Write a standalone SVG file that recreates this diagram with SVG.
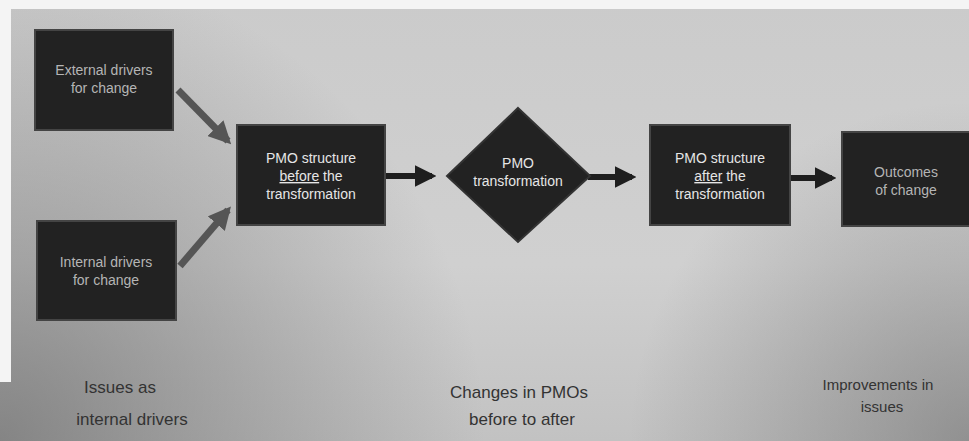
<svg xmlns="http://www.w3.org/2000/svg" width="969" height="441" viewBox="0 0 969 441">
<defs>
<linearGradient id="bg" x1="0" y1="0" x2="0" y2="1">
<stop offset="0" stop-color="#cbcbcb"/>
<stop offset="0.6" stop-color="#d0d0d0"/>
<stop offset="1" stop-color="#c2c2c2"/>
</linearGradient>
<radialGradient id="dl" cx="0" cy="1" r="0.5" gradientTransform="scale(1,2.2) translate(0,-0.545)">
<stop offset="0" stop-color="#707070" stop-opacity="0.75"/>
<stop offset="1" stop-color="#707070" stop-opacity="0"/>
</radialGradient>
<radialGradient id="dr" cx="1" cy="1" r="0.35" gradientTransform="scale(1,2.2) translate(0,-0.545)">
<stop offset="0" stop-color="#707070" stop-opacity="0.6"/>
<stop offset="1" stop-color="#707070" stop-opacity="0"/>
</radialGradient>
<marker id="ah" viewBox="0 0 10 10" refX="8" refY="5" markerWidth="3.6" markerHeight="3.6" orient="auto">
<path d="M0,0 L10,5 L0,10 z" fill="#1e1e1e"/>
</marker>
<marker id="ahg" viewBox="0 0 10 10" refX="8" refY="5" markerWidth="3.2" markerHeight="3.2" orient="auto">
<path d="M0,0 L10,5 L0,10 z" fill="#555"/>
</marker>
</defs>
<style>
.box{fill:#222;stroke:#444;stroke-width:2}
.t{font-family:"Liberation Sans",Arial,sans-serif;font-size:14px;fill:#b5b5b5;text-anchor:middle}
.tw{font-family:"Liberation Sans",Arial,sans-serif;font-size:14px;fill:#e6e6e6;text-anchor:middle}
.cap{font-family:"Liberation Sans",Arial,sans-serif;font-size:17px;fill:#333;text-anchor:middle}
.c{stroke:#1e1e1e;stroke-width:6;fill:none}
.cg{stroke:#555;stroke-width:7;fill:none}
</style>
<rect x="0" y="0" width="969" height="441" fill="url(#bg)"/>
<rect x="0" y="0" width="969" height="441" fill="url(#dl)"/>
<rect x="0" y="0" width="969" height="441" fill="url(#dr)"/>
<rect x="0" y="0" width="969" height="9" fill="#f4f4f4"/>
<rect x="0" y="0" width="11" height="382" fill="#f4f4f4"/>
<g id="connectors">
<line class="cg" x1="178" y1="90" x2="228" y2="141" marker-end="url(#ahg)"/>
<line class="cg" x1="180" y1="266" x2="228" y2="210" marker-end="url(#ahg)"/>
<line class="c" x1="386" y1="176" x2="432" y2="176" marker-end="url(#ah)"/>
<line class="c" x1="588" y1="177" x2="632" y2="177" marker-end="url(#ah)"/>
<line class="c" x1="791" y1="178" x2="832" y2="178" marker-end="url(#ah)"/>
</g>
<g id="external">
<rect class="box" x="35" y="30" width="138" height="100"/>
<text class="t" x="104" y="75">External drivers</text>
<text class="t" x="104" y="93">for change</text>
</g>
<g id="internal">
<rect class="box" x="37" y="221" width="139" height="99"/>
<text class="t" x="106" y="267">Internal drivers</text>
<text class="t" x="106" y="285">for change</text>
</g>
<g id="before">
<rect class="box" x="237" y="125" width="148" height="100"/>
<text class="tw" x="311" y="163">PMO structure</text>
<text class="tw" x="311" y="181"><tspan text-decoration="underline">before</tspan> the</text>
<text class="tw" x="311" y="199">transformation</text>
</g>
<g id="transformation">
<polygon points="518,108 590,176 518,242 447,176" fill="#222" stroke="#333" stroke-width="2"/>
<text class="tw" x="518" y="168">PMO</text>
<text class="tw" x="518" y="186">transformation</text>
</g>
<g id="after">
<rect class="box" x="650" y="125" width="140" height="100"/>
<text class="tw" x="720" y="163">PMO structure</text>
<text class="tw" x="720" y="181"><tspan text-decoration="underline">after</tspan> the</text>
<text class="tw" x="720" y="199">transformation</text>
</g>
<g id="outcomes">
<rect class="box" x="842" y="132" width="130" height="94"/>
<text class="t" x="906" y="177">Outcomes</text>
<text class="t" x="906" y="195">of change</text>
</g>
<text class="cap" x="120" y="393">Issues as</text>
<text class="cap" x="132" y="425">internal drivers</text>
<text class="cap" x="519" y="398">Changes in PMOs</text>
<text class="cap" x="522" y="425">before to after</text>
<text class="cap" x="878" y="390" style="font-size:15px">Improvements in</text>
<text class="cap" x="882" y="412" style="font-size:15px">issues</text>
</svg>
